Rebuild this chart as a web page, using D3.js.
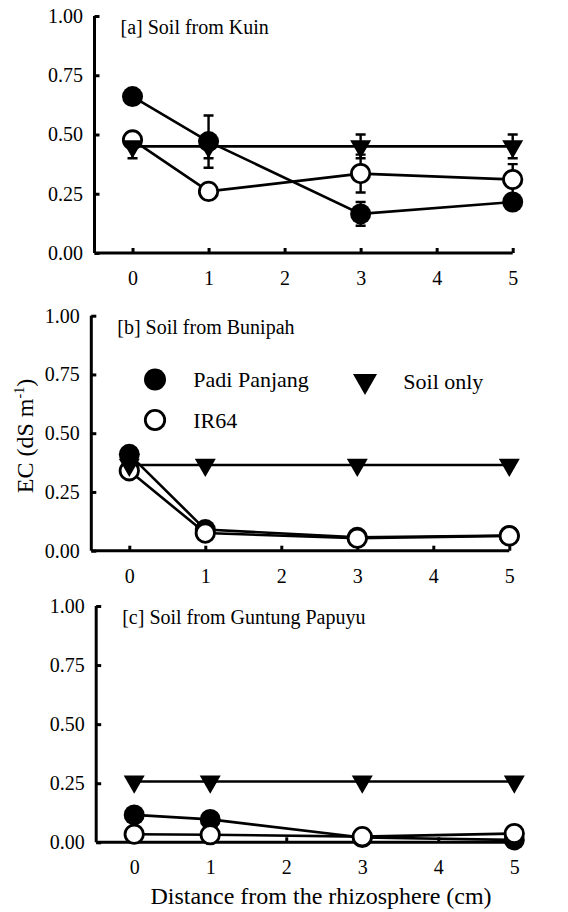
<!DOCTYPE html>
<html>
<head>
<meta charset="utf-8">
<script src="https://cdn.jsdelivr.net/npm/d3@7"></script>
<style>
  body { margin: 0; background: #fff; }
  svg { display: block; }
</style>
</head>
<body>
<script>
// EC along the distance from the rhizosphere, three soils
const distances = [0, 1, 3, 5];
const xTicks = [0, 1, 2, 3, 4, 5];
const yTicks = [0, 0.25, 0.5, 0.75, 1];
const panelTitles = ["[a] Soil from Kuin", "[b] Soil from Bunipah", "[c] Soil from Guntung Papuyu"];
const seriesNames = ["Padi Panjang", "IR64", "Soil only"];

// [a] Kuin
const kuinPadi = [0.66, 0.47, 0.165, 0.215];
const kuinPadiErr = [0.01, 0.11, 0.05, 0.02];
const kuinIR64 = [0.477, 0.26, 0.335, 0.31];
const kuinIR64Err = [0.03, 0.02, 0.08, 0.065];
const kuinSoil = [0.45, 0.45, 0.45, 0.45];
const kuinSoilErr = [0.05, 0.05, 0.05, 0.05];

// [b] Bunipah
const bunipahPadi = [0.41, 0.09, 0.057, 0.065];
const bunipahPadiErr = [0.01, 0.01, 0.005, 0.005];
const bunipahIR64 = [0.34, 0.075, 0.053, 0.063];
const bunipahIR64Err = [0.01, 0.005, 0.005, 0.005];
const bunipahSoil = [0.365, 0.365, 0.365, 0.365];
const bunipahSoilErr = [0.005, 0.005, 0.005, 0.005];

// [c] Guntung Papuyu
const guntungPadi = [0.116, 0.097, 0.02, 0.01];
const guntungPadiErr = [0.005, 0.005, 0.003, 0.003];
const guntungIR64 = [0.034, 0.032, 0.024, 0.037];
const guntungIR64Err = [0.003, 0.003, 0.003, 0.003];
const guntungSoil = [0.257, 0.257, 0.257, 0.257];
const guntungSoilErr = [0.005, 0.005, 0.005, 0.005];

const panelData = [
  [[kuinPadi, kuinPadiErr], [kuinIR64, kuinIR64Err], [kuinSoil, kuinSoilErr]],
  [[bunipahPadi, bunipahPadiErr], [bunipahIR64, bunipahIR64Err], [bunipahSoil, bunipahSoilErr]],
  [[guntungPadi, guntungPadiErr], [guntungIR64, guntungIR64Err], [guntungSoil, guntungSoilErr]]
];

// layout of each panel (pixels)
const panels = [
  { left: 94.5, right: 512.7, top: 16, bottom: 253 },
  { left: 91.3, right: 509.3, top: 315.7, bottom: 550.7 },
  { left: 96.2, right: 514.3, top: 606, bottom: 842.3 }
];

const FONT = "Liberation Serif";
const width = 568, height = 912;
const svg = d3.select("body").append("svg")
  .attr("width", width)
  .attr("height", height)
  .attr("font-family", FONT);

svg.append("rect").attr("width", width).attr("height", height).attr("fill", "#fff");

const R = 10.5;
function triPath(w, h) {
  return `M0,${2 * h / 3}L${-w / 2},${-h / 3}L${w / 2},${-h / 3}Z`;
}

function drawMarker(g, type, x, y, r, tw, th) {
  if (type === 2) {
    g.append("path").attr("d", triPath(tw, th))
      .attr("transform", `translate(${x},${y})`)
      .attr("fill", "#000");
  } else {
    g.append("circle").attr("cx", x).attr("cy", y)
      .attr("r", type === 1 ? r - 1.3 : r)
      .attr("fill", type === 1 ? "#fff" : "#000")
      .attr("stroke", "#000")
      .attr("stroke-width", type === 1 ? 2.8 : 0);
  }
}

panels.forEach((p, pi) => {
  const x = d3.scaleLinear().domain([-0.5, 5]).range([p.left, p.right]);
  const y = d3.scaleLinear().domain([0, 1]).range([p.bottom, p.top]);
  const g = svg.append("g");

  // axes
  const yAxis = g.append("g")
    .attr("transform", `translate(${p.left},0)`)
    .call(d3.axisLeft(y).tickValues(yTicks).tickSize(-5).tickPadding(11.5).tickFormat(d3.format(".2f")));
  const xAxis = g.append("g")
    .attr("transform", `translate(0,${p.bottom})`)
    .call(d3.axisBottom(x).tickValues(xTicks).tickSize(-5).tickPadding(18).tickFormat(d3.format("d")));
  [xAxis, yAxis].forEach(a => {
    a.attr("font-family", FONT).attr("font-size", 20);
    a.select(".domain").attr("stroke", "#000").attr("stroke-width", 3);
    a.selectAll(".tick line").attr("stroke", "#000").attr("stroke-width", 3);
    a.selectAll(".tick text").attr("fill", "#000").attr("font-size", 20)
      .attr("font-family", FONT);
  });
  yAxis.select(".domain").attr("d", `M0,${p.bottom}V${p.top}`);
  xAxis.select(".domain").attr("d", `M${p.left},0H${p.right}`);

  // panel title
  g.append("text")
    .attr("x", p.left + 26)
    .attr("y", p.top + 18)
    .attr("font-size", 20)
    .attr("font-family", FONT)
    .text(panelTitles[pi]);

  const series = panelData[pi];
  const line = d3.line().x((d, i) => x(distances[i])).y(d => y(d));

  // lines
  series.forEach(([vals]) => {
    g.append("path").datum(vals)
      .attr("d", line)
      .attr("fill", "none")
      .attr("stroke", "#000")
      .attr("stroke-width", 2.6);
  });

  // error bars
  series.forEach(([vals, errs]) => {
    vals.forEach((v, i) => {
      const cx = x(distances[i]);
      const y0 = y(v - errs[i]), y1 = y(v + errs[i]);
      g.append("path")
        .attr("d", `M${cx},${y0}V${y1}M${cx - 5},${y0}H${cx + 5}M${cx - 5},${y1}H${cx + 5}`)
        .attr("stroke", "#000").attr("stroke-width", 2.4).attr("fill", "none");
    });
  });

  // markers: filled, open, triangle
  series.forEach(([vals], si) => {
    vals.forEach((v, i) => drawMarker(g, si, x(distances[i]), y(v), R, 21, 18.2));
  });
});

// legend inside panel b
const legend = svg.append("g").attr("font-size", 22).attr("font-family", FONT);
const legendItems = [
  { type: 0, mx: 155, my: 379.5, tx: 193.3, ty: 386.7 },
  { type: 1, mx: 155, my: 420, tx: 193.3, ty: 427.5 },
  { type: 2, mx: 365, my: 381, tx: 403.3, ty: 389 }
];
legendItems.forEach((l, i) => {
  drawMarker(legend, l.type, l.mx, l.my, 11, 24, 21);
  legend.append("text").attr("x", l.tx).attr("y", l.ty)
    .attr("font-family", FONT).text(seriesNames[i]);
});

// axis titles
svg.append("text")
  .attr("x", 321)
  .attr("y", 904)
  .attr("text-anchor", "middle")
  .attr("font-size", 24)
  .attr("font-family", FONT)
  .text("Distance from the rhizosphere (cm)");

const yLabel = svg.append("text")
  .attr("transform", "translate(33,436) rotate(-90)")
  .attr("text-anchor", "middle")
  .attr("font-size", 24)
  .attr("font-family", FONT);
yLabel.append("tspan").text("EC (dS m");
yLabel.append("tspan").attr("dy", -9).attr("font-size", 14).text("-1");
yLabel.append("tspan").attr("dy", 9).text(")");
</script>
</body>
</html>
